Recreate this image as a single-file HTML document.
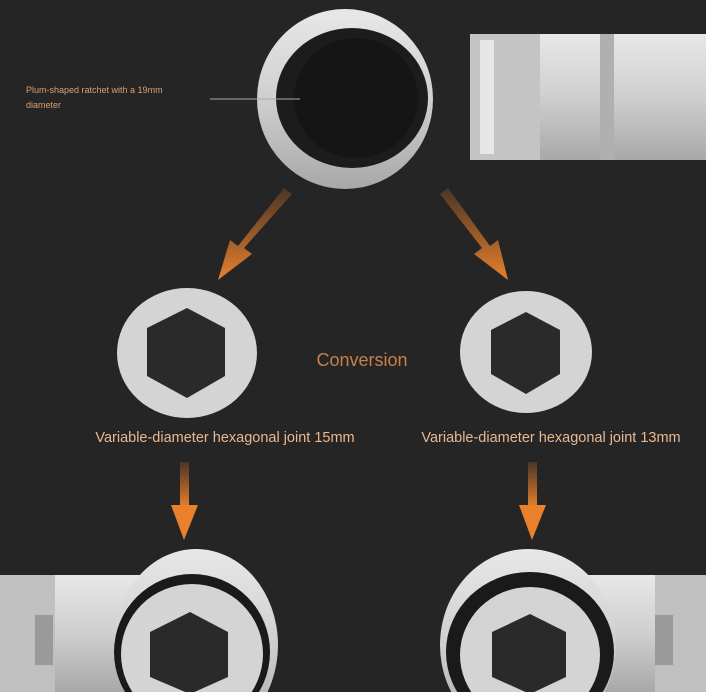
<!DOCTYPE html>
<html><head><style>html,body{margin:0;padding:0;background:#252525;width:706px;height:692px;overflow:hidden}svg{display:block}</style></head>
<body>
<svg width="706" height="692" viewBox="0 0 706 692" xmlns="http://www.w3.org/2000/svg" font-family="Liberation Sans, sans-serif">
<defs>
<linearGradient id="met" x1="0" y1="0" x2="0" y2="1"><stop offset="0" stop-color="#e8e8e8"/><stop offset="0.5" stop-color="#cfcfcf"/><stop offset="1" stop-color="#a8a8a8"/></linearGradient>
<linearGradient id="arr" x1="0" y1="0" x2="0" y2="1"><stop offset="0" stop-color="#e07a2a" stop-opacity="0.2"/><stop offset="1" stop-color="#e8802c"/></linearGradient>
</defs>
<rect width="706" height="692" fill="#252525"/>
<!-- top wrench -->
<rect x="470" y="34" width="236" height="126" fill="url(#met)"/>
<rect x="470" y="34" width="70" height="126" fill="#c4c4c4"/>
<rect x="480" y="40" width="14" height="114" fill="#e6e6e6"/>
<rect x="600" y="34" width="14" height="126" fill="#b0b0b0"/>
<ellipse cx="345" cy="99" rx="88" ry="90" fill="url(#met)"/>
<ellipse cx="352" cy="98" rx="76" ry="70" fill="#1c1c1c"/>
<ellipse cx="356" cy="98" rx="62" ry="60" fill="#151515"/>
<line x1="210" y1="99" x2="300" y2="99" stroke="#aaa" stroke-width="1"/>
<text x="26" y="93" font-size="9" fill="#d9a070">Plum-shaped ratchet with a 19mm</text>
<text x="26" y="108" font-size="9" fill="#d9a070">diameter</text>
<!-- diagonal arrows -->
<polygon points="284,188 292,194 244,248 252,254 218,280 230,240 238,246" fill="url(#arr)"/>
<polygon points="440,194 448,188 490,246 498,240 508,280 474,254 482,248" fill="url(#arr)"/>
<!-- middle rings -->
<ellipse cx="187" cy="353" rx="70" ry="65" fill="#d4d4d4"/>
<polygon points="187,308 225,328 225,376 187,398 147,376 147,328" fill="#2a2a2a"/>
<ellipse cx="526" cy="352" rx="66" ry="61" fill="#d4d4d4"/>
<polygon points="526,312 560,330 560,374 526,394 491,374 491,330" fill="#2a2a2a"/>
<text x="362" y="366" font-size="18" fill="#c8804a" text-anchor="middle">Conversion</text>
<text x="225" y="442" font-size="14.5" fill="#e8b890" text-anchor="middle">Variable-diameter hexagonal joint 15mm</text>
<text x="551" y="442" font-size="14.5" fill="#e8b890" text-anchor="middle">Variable-diameter hexagonal joint 13mm</text>
<!-- down arrows -->
<rect x="180" y="462" width="9" height="45" fill="url(#arr)"/>
<polygon points="171,505 198,505 184,540" fill="#e8802c"/>
<rect x="528" y="462" width="9" height="45" fill="url(#arr)"/>
<polygon points="519,505 546,505 532,540" fill="#e8802c"/>
<!-- bottom left wrench -->
<rect x="0" y="575" width="140" height="117" fill="url(#met)"/>
<rect x="0" y="575" width="55" height="117" fill="#c0c0c0"/>
<rect x="35" y="615" width="18" height="50" fill="#9a9a9a"/>
<ellipse cx="196" cy="645" rx="82" ry="96" fill="url(#met)"/>
<ellipse cx="192" cy="652" rx="78" ry="78" fill="#1a1a1a"/>
<ellipse cx="192" cy="654" rx="71" ry="70" fill="#d4d4d4"/>
<polygon points="190,612 228,632 228,677 190,694 150,677 150,632" fill="#2a2a2a"/>
<!-- bottom right wrench -->
<rect x="580" y="575" width="126" height="117" fill="url(#met)"/>
<rect x="655" y="575" width="51" height="117" fill="#c0c0c0"/>
<rect x="655" y="615" width="18" height="50" fill="#9a9a9a"/>
<ellipse cx="528" cy="645" rx="88" ry="96" fill="url(#met)"/>
<ellipse cx="530" cy="652" rx="84" ry="80" fill="#1a1a1a"/>
<ellipse cx="530" cy="655" rx="70" ry="68" fill="#d4d4d4"/>
<polygon points="530,614 566,632 566,677 530,694 492,677 492,632" fill="#2a2a2a"/>
</svg>
</body></html>
